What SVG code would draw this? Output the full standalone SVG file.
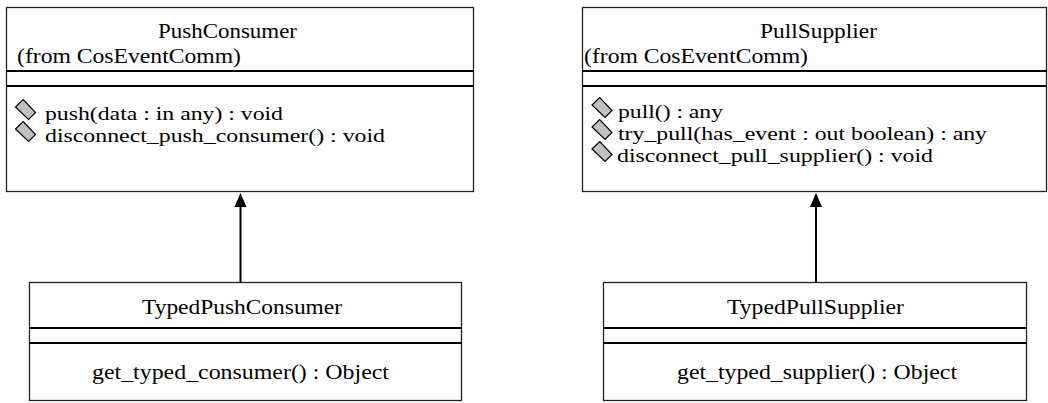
<svg xmlns="http://www.w3.org/2000/svg" xmlns:xlink="http://www.w3.org/1999/xlink" width="1048" height="403" viewBox="0 0 1048 403">
<style>
.box{fill:#fff;stroke:#222;stroke-width:1.3}
.sep{stroke:#000;stroke-width:2}
.t{font-family:"Liberation Serif","Times New Roman",serif;font-size:22px;fill:#000}
.m{font-size:19.5px}
.dia{fill:#c0c0c0;stroke:#000;stroke-width:1.2}
.conn{stroke:#000;stroke-width:2;fill:none}
</style>
<defs>
<polygon id="op" class="dia" points="0,0 7.7,-7.4 20,5.5 13,12.5"/>
</defs>
<rect width="1048" height="403" fill="#fff"/>

<g id="PushConsumer">
<rect class="box" x="6.5" y="7.5" width="467" height="184"/>
<line class="sep" x1="6" y1="71" x2="474" y2="71"/>
<line class="sep" x1="6" y1="86" x2="474" y2="86"/>
<text class="t" x="158" y="38" textLength="139" lengthAdjust="spacingAndGlyphs">PushConsumer</text>
<text class="t" x="17" y="63" textLength="224" lengthAdjust="spacingAndGlyphs">(from CosEventComm)</text>
<use xlink:href="#op" x="15.5" y="107"/>
<use xlink:href="#op" x="15.5" y="129"/>
<text class="t m" x="45" y="120" textLength="238" lengthAdjust="spacingAndGlyphs">push(data : in any) : void</text>
<text class="t m" x="45" y="142" textLength="340" lengthAdjust="spacingAndGlyphs">disconnect_push_consumer() : void</text>
</g>

<g id="PullSupplier">
<rect class="box" x="582.5" y="7.5" width="464" height="184"/>
<line class="sep" x1="582" y1="71" x2="1047" y2="71"/>
<line class="sep" x1="582" y1="86" x2="1047" y2="86"/>
<text class="t" x="760" y="38" textLength="117" lengthAdjust="spacingAndGlyphs">PullSupplier</text>
<text class="t" x="584" y="63" textLength="224" lengthAdjust="spacingAndGlyphs">(from CosEventComm)</text>
<use xlink:href="#op" x="592" y="105"/>
<use xlink:href="#op" x="592" y="127"/>
<use xlink:href="#op" x="592" y="149"/>
<text class="t m" x="618" y="118" textLength="105" lengthAdjust="spacingAndGlyphs">pull() : any</text>
<text class="t m" x="618" y="140" textLength="369" lengthAdjust="spacingAndGlyphs">try_pull(has_event : out boolean) : any</text>
<text class="t m" x="617" y="162" textLength="316" lengthAdjust="spacingAndGlyphs">disconnect_pull_supplier() : void</text>
</g>

<g id="TypedPushConsumer">
<rect class="box" x="29.5" y="282.5" width="432" height="118"/>
<line class="sep" x1="29" y1="328" x2="462" y2="328"/>
<line class="sep" x1="29" y1="343" x2="462" y2="343"/>
<text class="t" x="142" y="314" textLength="200" lengthAdjust="spacingAndGlyphs">TypedPushConsumer</text>
<text class="t" x="92" y="379" textLength="297" lengthAdjust="spacingAndGlyphs">get_typed_consumer() : Object</text>
</g>

<g id="TypedPullSupplier">
<rect class="box" x="603.5" y="282.5" width="423" height="118"/>
<line class="sep" x1="603" y1="328" x2="1027" y2="328"/>
<line class="sep" x1="603" y1="343" x2="1027" y2="343"/>
<text class="t" x="727" y="314" textLength="177" lengthAdjust="spacingAndGlyphs">TypedPullSupplier</text>
<text class="t" x="677" y="379" textLength="280" lengthAdjust="spacingAndGlyphs">get_typed_supplier() : Object</text>
</g>

<g id="connectors">
<line class="conn" x1="240.5" y1="282" x2="240.5" y2="206"/>
<polygon points="240.5,193 246.5,207 234.5,207" fill="#000"/>
<line class="conn" x1="816" y1="282" x2="816" y2="206"/>
<polygon points="816,193 822,207 810,207" fill="#000"/>
</g>
</svg>
